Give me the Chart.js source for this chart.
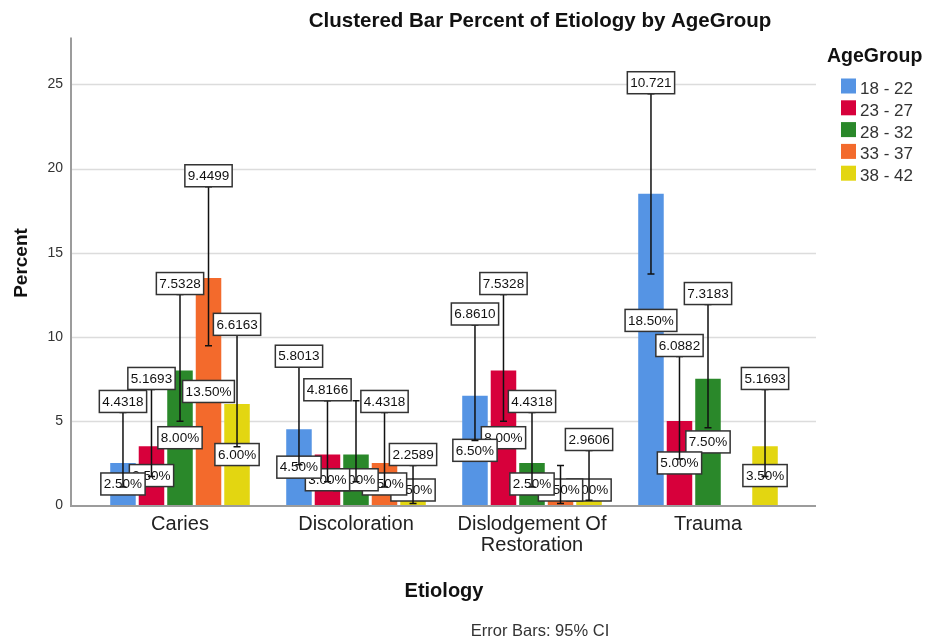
<!DOCTYPE html>
<html>
<head>
<meta charset="utf-8">
<script src="https://cdn.jsdelivr.net/npm/chart.js@4.4.0/dist/chart.umd.min.js"></script>
<style>
  html, body { margin: 0; padding: 0; background: #ffffff; }
  canvas { display: block; }
</style>
</head>
<body>
<canvas id="chart" width="929" height="641"></canvas>
<script>
// ---- data -------------------------------------------------------------
const etiology = ['Caries', 'Discoloration', ['Dislodgement Of', 'Restoration'], 'Trauma'];
const ageGroups = ['18 - 22', '23 - 27', '28 - 32', '33 - 37', '38 - 42'];

// percent of all cases, per etiology, for each age group
const pct18_22 = [2.5, 4.5, 6.5, 18.5];
const pct23_27 = [3.5, 3.0, 8.0, 5.0];
const pct28_32 = [8.0, 3.0, 2.5, 7.5];
const pct33_37 = [13.5, 2.5, 0.5, 0];
const pct38_42 = [6.0, 0.5, 1.0, 3.5];

// lower end of the 95% confidence interval
const ciLow18_22 = [1.07, 2.39, 3.84, 13.73];
const ciLow23_27 = [1.70, 1.38, 4.98, 2.74];
const ciLow28_32 = [4.98, 1.38, 1.07, 4.60];
const ciLow33_37 = [9.47, 1.07, 0.09, null];
const ciLow38_42 = [3.47, 0.09, 0.28, 1.70];

// length of the 95% confidence interval (printed above each error bar)
const ciLen18_22 = [4.4318, 5.8013, 6.8610, 10.721];
const ciLen23_27 = [5.1693, 4.8166, 7.5328, 6.0882];
const ciLen28_32 = [7.5328, 4.8166, 4.4318, 7.3183];
const ciLen33_37 = [9.4499, 4.4318, 2.2589, null];
const ciLen38_42 = [6.6163, 2.2589, 2.9606, 5.1693];

const yTicks = [0, 5, 10, 15, 20, 25];

// ---- look ---------------------------------------------------------------
const FONT = "'Liberation Sans', Arial, Helvetica, sans-serif";
const colors = ['#5594e4', '#d7003b', '#2a882a', '#f36a2c', '#e3d611'];
const pctSeries = [pct18_22, pct23_27, pct28_32, pct33_37, pct38_42];
const lowSeries = [ciLow18_22, ciLow23_27, ciLow28_32, ciLow33_37, ciLow38_42];
const lenSeries = [ciLen18_22, ciLen23_27, ciLen28_32, ciLen33_37, ciLen38_42];

// labels that are left out where they would pile up on a neighbour
const hiddenLenLabels = new Set(['Discoloration|28 - 32', 'Dislodgement Of Restoration|33 - 37']);
// vertical shift (px) of a percent label that would sit on a neighbour's box
const pctLabelShift = { 'Trauma|18 - 22': -29 };

const AXIS_LEFT = 71, AXIS_RIGHT = 816;
const BOX_H = 22;

function catName(c) { return Array.isArray(c) ? c.join(' ') : c; }

function labelBox(ctx, text, cx, cy) {
  ctx.font = '13.5px ' + FONT;
  const w = ctx.measureText(text).width + 6;
  ctx.fillStyle = '#ffffff';
  ctx.fillRect(cx - w / 2, cy - BOX_H / 2, w, BOX_H);
  ctx.strokeStyle = '#333333';
  ctx.lineWidth = 1.5;
  ctx.strokeRect(cx - w / 2, cy - BOX_H / 2, w, BOX_H);
  ctx.fillStyle = '#111111';
  ctx.textAlign = 'center';
  ctx.textBaseline = 'middle';
  ctx.fillText(text, cx, cy + 0.5);
}

const frame = {
  id: 'frame',
  beforeDatasetsDraw(chart) {
    const ctx = chart.ctx, y = chart.scales.y;
    ctx.save();
    ctx.strokeStyle = '#dcdcdc';
    ctx.lineWidth = 1.5;
    yTicks.forEach(t => {
      if (t === 0) return;
      const py = Math.round(y.getPixelForValue(t)) + 0.5;
      ctx.beginPath(); ctx.moveTo(AXIS_LEFT, py); ctx.lineTo(AXIS_RIGHT, py); ctx.stroke();
    });
    ctx.restore();
  },
  afterDatasetsDraw(chart) {
    const ctx = chart.ctx, y = chart.scales.y;
    ctx.save();
    // axes
    ctx.strokeStyle = '#9c9c9c';
    ctx.lineWidth = 2;
    const y0 = y.getPixelForValue(0);
    ctx.beginPath(); ctx.moveTo(AXIS_LEFT, y.top); ctx.lineTo(AXIS_LEFT, y0 + 1); ctx.lineTo(AXIS_RIGHT, y0 + 1); ctx.stroke();

    const items = [];
    pctSeries.forEach((vals, s) => {
      const meta = chart.getDatasetMeta(s);
      vals.forEach((v, c) => {
        if (!v) return;
        const bar = meta.data[c];
        const low = lowSeries[s][c], len = lenSeries[s][c];
        items.push({ s, c, v, x: bar.x, low, len, key: catName(etiology[c]) + '|' + ageGroups[s] });
      });
    });

    // percent labels, last age group first so earlier groups sit on top
    items.slice().reverse().forEach(it => {
      let cy = Math.min(y.getPixelForValue(it.v / 2), 490);
      cy += pctLabelShift[it.key] || 0;
      labelBox(ctx, it.v.toFixed(2) + '%', it.x, cy);
    });

    // error bars
    ctx.strokeStyle = '#111111';
    ctx.lineWidth = 1.5;
    items.forEach(it => {
      if (it.low == null) return;
      const yl = y.getPixelForValue(it.low), yu = y.getPixelForValue(it.low + it.len);
      ctx.beginPath();
      ctx.moveTo(it.x, yl); ctx.lineTo(it.x, yu);
      ctx.moveTo(it.x - 3.5, yl); ctx.lineTo(it.x + 3.5, yl);
      ctx.moveTo(it.x - 3.5, yu); ctx.lineTo(it.x + 3.5, yu);
      ctx.stroke();
    });

    // interval length labels above each bar
    items.slice().reverse().forEach(it => {
      if (it.len == null || hiddenLenLabels.has(it.key)) return;
      const yu = y.getPixelForValue(it.low + it.len);
      labelBox(ctx, it.len.toPrecision(5), it.x, yu - BOX_H / 2);
    });
    ctx.restore();
  },
  afterDraw(chart) {
    const ctx = chart.ctx;
    ctx.save();
    ctx.fillStyle = '#111111';
    ctx.textAlign = 'center';
    ctx.textBaseline = 'alphabetic';
    ctx.font = 'bold 20.5px ' + FONT;
    ctx.fillText('Clustered Bar Percent of Etiology by AgeGroup', 540, 27);

    ctx.font = 'bold 20px ' + FONT;
    ctx.fillText('Etiology', (chart.chartArea.left + chart.chartArea.right) / 2, 597);

    ctx.fillStyle = '#333333';
    ctx.font = '16.5px ' + FONT;
    ctx.fillText('Error Bars: 95% CI', 540, 636);

    // y title
    ctx.fillStyle = '#111111';
    ctx.font = 'bold 19px ' + FONT;
    ctx.translate(27, 263);
    ctx.rotate(-Math.PI / 2);
    ctx.fillText('Percent', 0, 0);
    ctx.setTransform(1, 0, 0, 1, 0, 0);

    // legend
    ctx.textAlign = 'left';
    ctx.fillStyle = '#111111';
    ctx.font = 'bold 19.5px ' + FONT;
    ctx.fillText('AgeGroup', 827, 62);
    ctx.font = '17px ' + FONT;
    ageGroups.forEach((g, i) => {
      const top = 78.5 + i * 21.8;
      ctx.fillStyle = colors[i];
      ctx.fillRect(841, top, 15, 15);
      ctx.fillStyle = '#333333';
      ctx.fillText(g, 860, top + 15.5);
    });
    ctx.restore();
  }
};

new Chart(document.getElementById('chart'), {
  type: 'bar',
  data: {
    labels: etiology,
    datasets: ageGroups.map((g, i) => ({
      label: g,
      data: pctSeries[i],
      backgroundColor: colors[i],
      borderWidth: 0,
      categoryPercentage: 0.81,
      barPercentage: 0.895
    }))
  },
  options: {
    responsive: false,
    devicePixelRatio: 1,
    animation: false,
    layout: { padding: { top: 35, right: 133, left: 0, bottom: 0 } },
    plugins: { legend: { display: false }, title: { display: false }, tooltip: { enabled: false } },
    scales: {
      x: {
        grid: { display: false, drawTicks: false },
        border: { display: false },
        ticks: { color: '#222222', font: { family: FONT, size: 20, lineHeight: 1.05 }, padding: 9, maxRotation: 0, autoSkip: false },
        afterFit(scale) { scale.height = 136; }
      },
      y: {
        min: 0,
        max: 27.8,
        grid: { display: false, drawTicks: false },
        border: { display: false },
        afterBuildTicks(scale) { scale.ticks = yTicks.map(v => ({ value: v })); },
        ticks: { color: '#333333', font: { family: FONT, size: 14 }, padding: 29 },
        afterFit(scale) { scale.width = 92; }
      }
    }
  },
  plugins: [frame]
});
</script>
</body>
</html>
